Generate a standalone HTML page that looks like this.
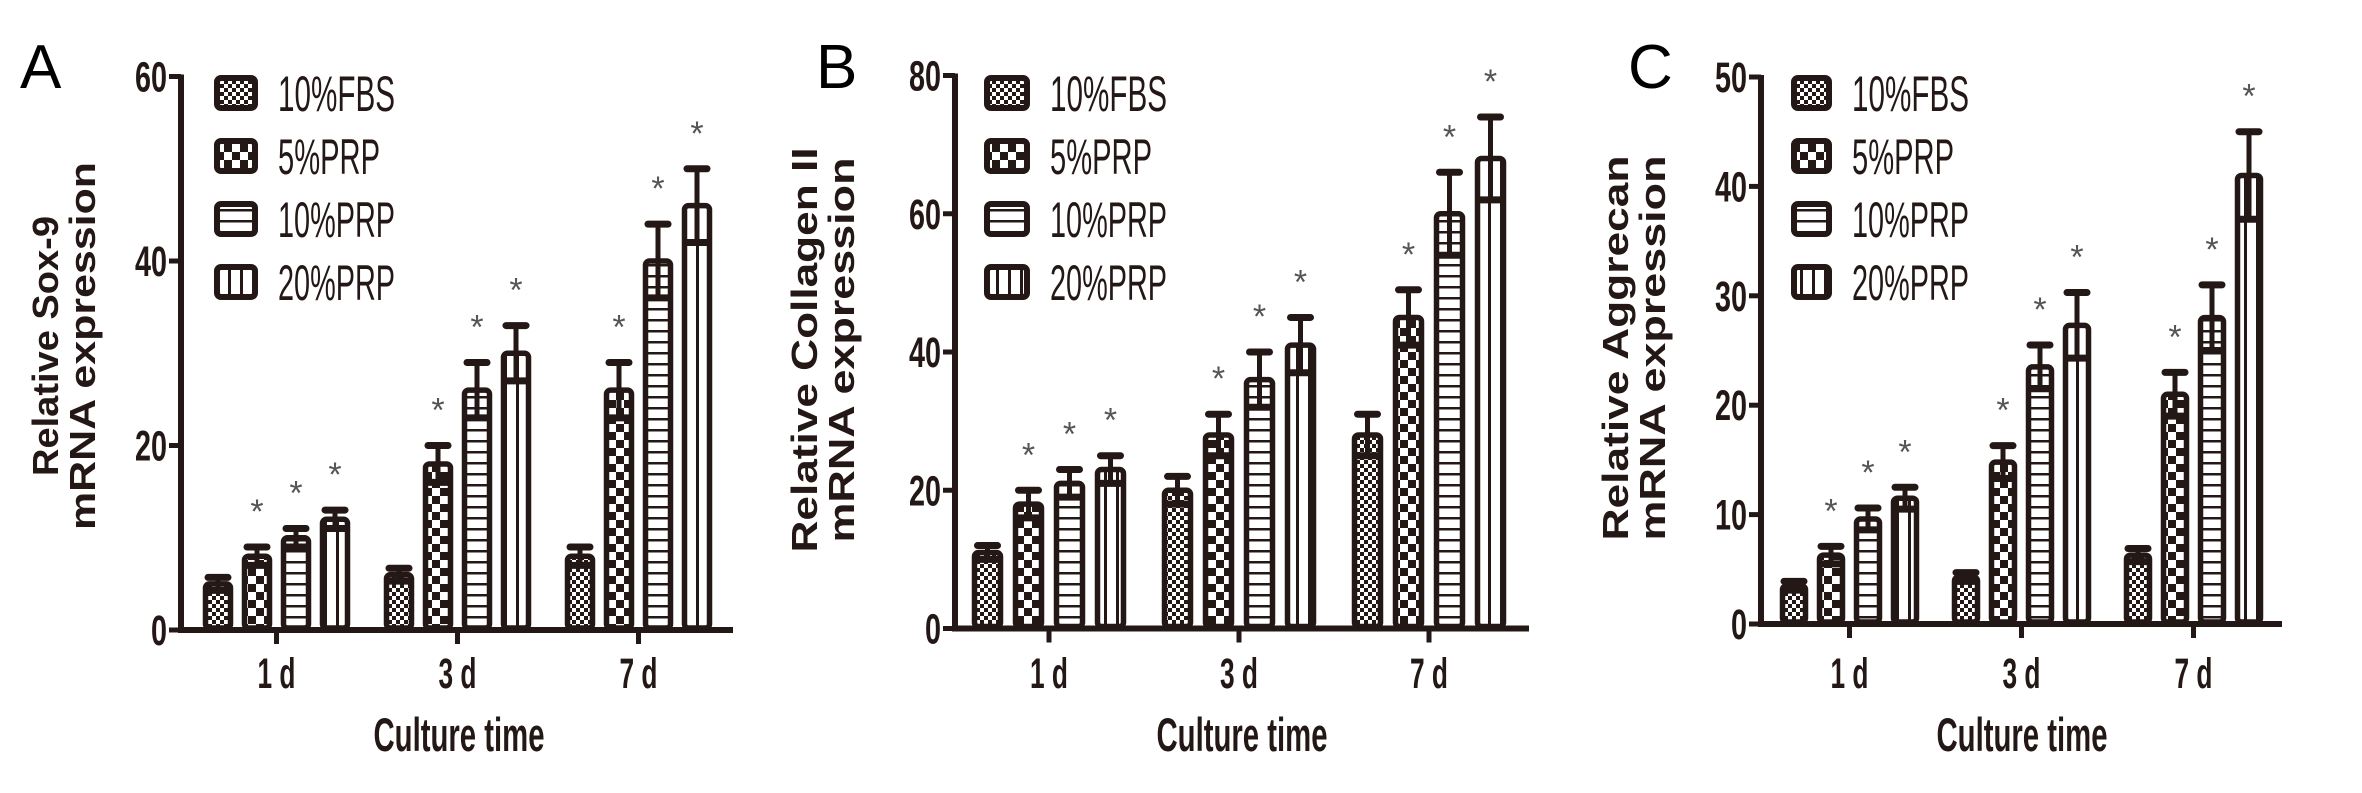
<!DOCTYPE html>
<html><head><meta charset="utf-8">
<style>
html,body{margin:0;padding:0;background:#fff;}
svg{display:block;}
text{font-family:"Liberation Sans Narrow","Liberation Sans",sans-serif;}
</style></head>
<body>
<svg id="fig" width="2362" height="793" viewBox="0 0 2362 793" xmlns="http://www.w3.org/2000/svg">
<defs>
<pattern id="p-fbs" width="8" height="8" patternUnits="userSpaceOnUse"><rect width="8" height="8" fill="#fff"/><rect width="4" height="4" fill="#231815"/><rect x="4" y="4" width="4" height="4" fill="#231815"/></pattern>
<pattern id="p-5" width="16" height="16" patternUnits="userSpaceOnUse"><rect width="16" height="16" fill="#fff"/><rect width="8" height="8" fill="#231815"/><rect x="8" y="8" width="8" height="8" fill="#231815"/></pattern>
<pattern id="p-10" width="11" height="11" patternUnits="userSpaceOnUse"><rect width="11" height="11" fill="#fff"/><rect y="0" width="11" height="2.5" fill="#231815"/></pattern>
<pattern id="p-20" width="12" height="12" patternUnits="userSpaceOnUse"><rect width="12" height="12" fill="#fff"/><rect x="0" width="3" height="12" fill="#231815"/></pattern>
</defs>
</svg>
<script>
// ---- data ----
const groups = ["1 d", "3 d", "7 d"];
const seriesNames = ["10%FBS", "5%PRP", "10%PRP", "20%PRP"];
// Panel A: Sox-9
const sox_fbs = [5, 6, 8];
const sox_prp5 = [8, 18, 26];
const sox_prp10 = [10, 26, 40];
const sox_prp20 = [12, 30, 46];
const sox_err_fbs = [0.7, 0.7, 1];
const sox_err_prp5 = [1, 2, 3];
const sox_err_prp10 = [1, 3, 4];
const sox_err_prp20 = [1, 3, 4];
const sox_ticks = [0, 20, 40, 60];
// Panel B: Collagen II
const col_fbs = [11, 20, 28];
const col_prp5 = [18, 28, 45];
const col_prp10 = [21, 36, 60];
const col_prp20 = [23, 41, 68];
const col_err_fbs = [1, 2, 3];
const col_err_prp5 = [2, 3, 4];
const col_err_prp10 = [2, 4, 6];
const col_err_prp20 = [2, 4, 6];
const col_ticks = [0, 20, 40, 60, 80];
// Panel C: Aggrecan
const agg_fbs = [3.5, 4.3, 6.3];
const agg_prp5 = [6.3, 14.8, 21];
const agg_prp10 = [9.6, 23.5, 28];
const agg_prp20 = [11.5, 27.3, 41];
const agg_err_fbs = [0.4, 0.4, 0.6];
const agg_err_prp5 = [0.8, 1.5, 2];
const agg_err_prp10 = [1, 2, 3];
const agg_err_prp20 = [1, 3, 4];
const agg_ticks = [0, 10, 20, 30, 40, 50];

const NS = "http://www.w3.org/2000/svg";
const svg = document.getElementById("fig");
const INK = "#231815";
const fills = ["url(#p-fbs)", "url(#p-5)", "url(#p-10)", "url(#p-20)"];

function mk(tag, attrs, parent) {
  const e = document.createElementNS(NS, tag);
  for (const k in attrs) e.setAttribute(k, attrs[k]);
  (parent || svg).appendChild(e);
  return e;
}

function panel(cfg) {
  const g = mk("g", {});
  
  
  const yMax = cfg.ticks[cfg.ticks.length - 1];
  const y = v => cfg.y0 - (v / yMax) * (cfg.y0 - cfg.yTop);
  const bx = (gi, si) => cfg.bar0 + gi * cfg.gstep + si * cfg.bstep;

  const L = mk("text", {x: cfg.letterX, y: 88, "font-size": 62, "font-family": "Liberation Sans, sans-serif", fill: "#000"}, g);
  L.textContent = cfg.letter;
  
  

  const ya = mk("line", {x1: cfg.ax, y1: cfg.yTop - 2, x2: cfg.ax, y2: cfg.y0 + 3, stroke: INK, "stroke-width": 6}, g);
  
  
  cfg.ticks.forEach(t => {
    mk("line", {x1: cfg.ax - 12, y1: y(t), x2: cfg.ax, y2: y(t), stroke: INK, "stroke-width": 5}, g);
    const s = String(t);
    const tl = mk("text", {x: cfg.ax - 14, y: y(t) + 15, "font-size": 43, "font-weight": "bold", "text-anchor": "end", fill: INK, textLength: 16 * s.length, lengthAdjust: "spacingAndGlyphs"}, g);
    tl.textContent = s;
    
    
  });
  const xa = mk("line", {x1: cfg.ax - 3, y1: cfg.y0, x2: cfg.xEnd, y2: cfg.y0, stroke: INK, "stroke-width": 6}, g);
  
  
  groups.forEach((name, gi) => {
    const cx = (bx(gi, 0) + bx(gi, 3) + cfg.bw) / 2;
    mk("line", {x1: cx, y1: cfg.y0, x2: cx, y2: cfg.y0 + 14, stroke: INK, "stroke-width": 5}, g);
    const tl = mk("text", {x: cx, y: 688, "font-size": 43, "font-weight": "bold", "text-anchor": "middle", fill: INK, textLength: 38, lengthAdjust: "spacingAndGlyphs"}, g);
    tl.textContent = name;
    
    
  });
  const xt = mk("text", {x: cfg.xtX, y: 751, "font-size": 47, "font-weight": "bold", "text-anchor": "middle", fill: INK, textLength: 171, lengthAdjust: "spacingAndGlyphs"}, g);
  xt.textContent = "Culture time";
  
  

  const yt = mk("g", {transform: `translate(${cfg.ytX},${cfg.ytY}) rotate(-90)`}, g);
  
  
  const t1 = mk("text", {x: 0, y: 0, "font-size": 36, "font-weight": "bold", "text-anchor": "middle", "font-family": "Liberation Sans, sans-serif", fill: INK, textLength: cfg.l1len, lengthAdjust: "spacingAndGlyphs"}, yt);
  t1.textContent = cfg.title1;
  const t2 = mk("text", {x: 0, y: 37, "font-size": 36, "font-weight": "bold", "text-anchor": "middle", "font-family": "Liberation Sans, sans-serif", fill: INK, textLength: cfg.l2len, lengthAdjust: "spacingAndGlyphs"}, yt);
  t2.textContent = "mRNA expression";

  const legLens = [117, 102, 117, 117];
  seriesNames.forEach((n, si) => {
    const cy = 93 + si * 63;
    const r = mk("rect", {x: cfg.legX + 3, y: cy - 15, width: cfg.legW - 6, height: 30, rx: 4, fill: fills[si], stroke: INK, "stroke-width": 6}, g);
    
    
    const lt = mk("text", {x: cfg.legX + cfg.legW + 20, y: cy + 18, "font-size": 50, fill: INK, textLength: legLens[si], lengthAdjust: "spacingAndGlyphs"}, g);
    lt.textContent = n;
    
    
  });

  const vals = cfg.vals, errs = cfg.errs;
  vals.forEach((arr, si) => {
    arr.forEach((v, gi) => {
      const x = bx(gi, si), top = y(v);
      const r = mk("rect", {x: x + 2.5, y: top, width: cfg.bw - 5, height: cfg.y0 - top - 2, rx: 4, fill: fills[si], stroke: INK, "stroke-width": 5.5}, g);
      
      
      const cx = x + cfg.bw / 2, e = errs[si][gi];
      const yt = y(v + e), yb = y(v - e);
      mk("line", {x1: cx, y1: yt, x2: cx, y2: yb, stroke: INK, "stroke-width": 5}, g);
      mk("line", {x1: cx - 10, y1: yt, x2: cx + 10, y2: yt, stroke: INK, "stroke-width": 7, "stroke-linecap": "round"}, g);
      mk("line", {x1: cx - 10, y1: yb, x2: cx + 10, y2: yb, stroke: INK, "stroke-width": 7, "stroke-linecap": "round"}, g);
      if (si > 0) {
        const s = mk("text", {x: cx, y: yt - 24, "font-size": 34, "text-anchor": "middle", fill: "#555", "font-family": "Liberation Sans, sans-serif"}, g);
        s.textContent = "*";
        
        
      }
    });
  });
}

panel({id: "sox9", letter: "A", letterX: 20, ax: 181, yTop: 76.5, y0: 630, xEnd: 733, ticks: sox_ticks,
  bar0: 203, bw: 30, bstep: 39, gstep: 181,
  vals: [sox_fbs, sox_prp5, sox_prp10, sox_prp20], errs: [sox_err_fbs, sox_err_prp5, sox_err_prp10, sox_err_prp20],
  legX: 214, legW: 44, xtX: 459, ytX: 58, ytY: 346, title1: "Relative Sox-9", l1len: 260, l2len: 368});
panel({id: "collagen", letter: "B", letterX: 816, ax: 955, yTop: 75.5, y0: 628.5, xEnd: 1529, ticks: col_ticks,
  bar0: 972, bw: 31, bstep: 41, gstep: 190,
  vals: [col_fbs, col_prp5, col_prp10, col_prp20], errs: [col_err_fbs, col_err_prp5, col_err_prp10, col_err_prp20],
  legX: 984, legW: 46, xtX: 1242, ytX: 817, ytY: 350, title1: "Relative Collagen II", l1len: 405, l2len: 385});
panel({id: "aggrecan", letter: "C", letterX: 1628, ax: 1761, yTop: 77, y0: 624, xEnd: 2282, ticks: agg_ticks,
  bar0: 1780, bw: 28, bstep: 37, gstep: 172,
  vals: [agg_fbs, agg_prp5, agg_prp10, agg_prp20], errs: [agg_err_fbs, agg_err_prp5, agg_err_prp10, agg_err_prp20],
  legX: 1791, legW: 41, xtX: 2022, ytX: 1628, ytY: 348, title1: "Relative Aggrecan", l1len: 385, l2len: 385});
</script>
</body></html>
